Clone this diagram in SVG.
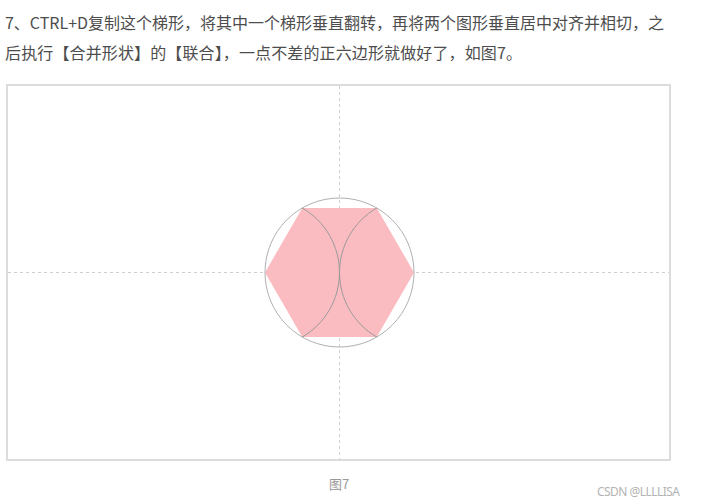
<svg xmlns="http://www.w3.org/2000/svg" width="701" height="502" viewBox="0 0 701 502">
<style>
.body{font-family:"Noto Sans CJK SC","Noto Sans",sans-serif;font-size:16px;fill:#4d4d4d}
.guide{stroke:#cfcfcf;stroke-width:1;stroke-dasharray:3 3;fill:none}
.arc{stroke:#9a9a9a;stroke-width:1;fill:none}
</style>
<rect width="701" height="502" fill="#ffffff"/>
<g id="paragraph">
<text class="body" x="5" y="29" textLength="659" lengthAdjust="spacing">7、CTRL+D复制这个梯形，将其中一个梯形垂直翻转，再将两个图形垂直居中对齐并相切，之</text>
<text class="body" x="5" y="59" textLength="517" lengthAdjust="spacing">后执行【合并形状】的【联合】，一点不差的正六边形就做好了，如图7。</text>
</g>
<g id="frame">
<rect x="7" y="85" width="663" height="375" fill="#ffffff" stroke="#dcdcdc" stroke-width="2"/>
</g>
<g id="guides">
<line class="guide" x1="339.5" y1="86" x2="339.5" y2="459"/>
<line class="guide" x1="8" y1="272.5" x2="669" y2="272.5"/>
</g>
<g id="hexagon">
<polygon points="265,272.5 302.25,208 376.75,208 414,272.5 376.75,337 302.25,337" fill="#fbbcc1"/>
</g>
<g id="circle">
<circle cx="339.5" cy="272.5" r="74.5" fill="none" stroke="#b0b0b0" stroke-width="1"/>
</g>
<g id="arcs">
<path class="arc" d="M302.25,208 A74.5,74.5 0 0 1 302.25,337"/>
<path class="arc" d="M376.75,208 A74.5,74.5 0 0 0 376.75,337"/>
</g>
<g id="caption">
<text x="339" y="489" text-anchor="middle" font-family="Noto Sans CJK SC, Noto Sans, sans-serif" font-size="13" fill="#999999">图7</text>
<text x="597" y="496" textLength="83" lengthAdjust="spacing" font-family="Noto Sans, sans-serif" font-size="12" fill="#b3b3b3">CSDN @LLLLISA</text>
</g>
</svg>
